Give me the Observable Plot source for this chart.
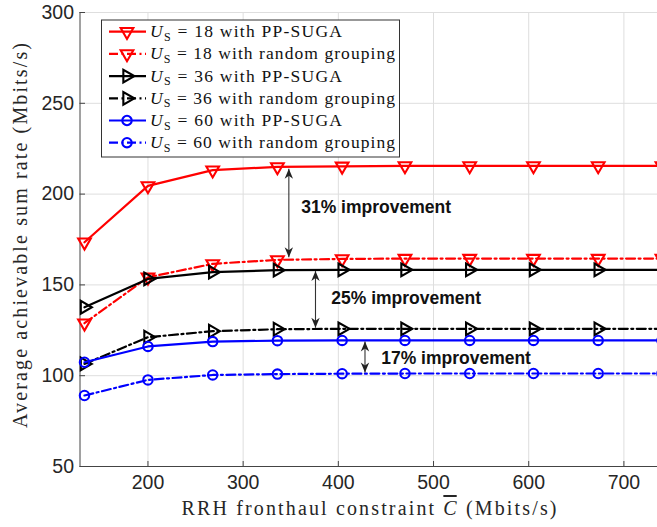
<!DOCTYPE html>
<html><head><meta charset="utf-8">
<script src="https://cdn.jsdelivr.net/npm/d3@7"></script>
<script src="https://cdn.jsdelivr.net/npm/@observablehq/plot@0.6"></script>
<style>
body{margin:0;background:#fff}
#chart{position:relative;width:657px;height:527px;overflow:hidden}
#chart svg{overflow:hidden}
</style>
</head><body><div id="chart"></div>
<script>
// ---- data ----
const xValues = [133.3, 200, 268, 336, 404, 470, 538, 605, 673, 740];
const us18Suga = [173.5, 204.5, 213.2, 215.0, 215.3, 215.5, 215.5, 215.5, 215.5, 215.5];
const us18Rand = [128.9, 154.2, 161.6, 163.8, 164.3, 164.5, 164.5, 164.5, 164.5, 164.5];
const us36Suga = [137.7, 153.3, 157.0, 158.1, 158.3, 158.3, 158.3, 158.3, 158.3, 158.3];
const us36Rand = [106.5, 121.2, 124.5, 125.6, 125.8, 125.8, 125.8, 125.8, 125.8, 125.8];
const us60Suga = [107.4, 116.1, 118.8, 119.3, 119.4, 119.4, 119.4, 119.4, 119.4, 119.4];
const us60Rand = [89.1, 97.7, 100.4, 100.9, 101.1, 101.2, 101.2, 101.2, 101.2, 101.2];
const xTicks = [200, 300, 400, 500, 600, 700];
const yTicks = [50, 100, 150, 200, 250, 300];
const xDomain = [128.6, 735.3];
const yDomain = [50, 300];
const legendUs = ["18", "18", "36", "36", "60", "60"];
const legendText = ["with PP-SUGA", "with random grouping", "with PP-SUGA", "with random grouping", "with PP-SUGA", "with random grouping"];
const arrowX = [348, 376, 428];
const arrowTop = [214, 157.6, 118.8];
const arrowBottom = [165.2, 126.4, 101.8];
const noteX = [361, 392.6, 445];
const noteY = [192.6, 142.5, 109.6];
const noteText = ["31% improvement", "25% improvement", "17% improvement"];

const dashDot = "9,3.5,2,3.5";
const series = [
  {values: us18Suga, color: "#ff0000", dash: null, symbol: "triangle", rotate: 180},
  {values: us18Rand, color: "#ff0000", dash: dashDot, symbol: "triangle", rotate: 180},
  {values: us36Suga, color: "#000000", dash: null, symbol: "triangle", rotate: 90},
  {values: us36Rand, color: "#000000", dash: dashDot, symbol: "triangle", rotate: 90},
  {values: us60Suga, color: "#0000ff", dash: null, symbol: "circle", rotate: 0},
  {values: us60Rand, color: "#0000ff", dash: dashDot, symbol: "circle", rotate: 0}
];

const arrows = arrowX.map((x, i) => ({x, y1: arrowTop[i], y2: arrowBottom[i]}));
const notes = noteX.map((x, i) => ({x, y: noteY[i], text: noteText[i]}));

const tickFont = "Liberation Sans, Arial, Helvetica, sans-serif";
const marks = [
  Plot.gridX(xTicks, {stroke: "#dedede", strokeOpacity: 1, strokeWidth: 1}),
  Plot.gridY(yTicks, {stroke: "#dedede", strokeOpacity: 1, strokeWidth: 1}),
  Plot.tickX(xTicks, {x: d => d, insetTop: 449, stroke: "#444", strokeWidth: 1}),
  Plot.tickY(yTicks, {y: d => d, insetRight: 572, stroke: "#444", strokeWidth: 1}),
  Plot.ruleY([yDomain[0]], {stroke: "#444", strokeWidth: 1}),
  Plot.ruleX([xDomain[0]], {stroke: "#444", strokeWidth: 1}),
  Plot.axisX(xTicks, {tickSize: 0, tickPadding: 9, fontSize: 19.5, fontFamily: tickFont, fill: "#262626", label: null}),
  Plot.axisY(yTicks, {tickSize: 0, tickPadding: 6, fontSize: 19.5, fontFamily: tickFont, fill: "#262626", label: null})
];
series.forEach(s => {
  const pts = s.values.map((v, j) => ({x: xValues[j], y: v}));
  marks.push(Plot.line(pts, {x: "x", y: "y", stroke: s.color, strokeWidth: 2.2, strokeDasharray: s.dash}));
  marks.push(Plot.dot(pts, {x: "x", y: "y", symbol: s.symbol, rotate: s.rotate, r: 4.7, stroke: s.color, strokeWidth: 2.1, fill: "none"}));
});
marks.push(Plot.link(arrows, {x1: "x", x2: "x", y1: "y1", y2: "y2", stroke: "#333", strokeWidth: 1.1}));
marks.push(Plot.text(notes, {x: "x", y: "y", text: "text", textAnchor: "start", fontWeight: "bold", fontSize: 17.5, fontFamily: tickFont, fill: "#111"}));

const plot = Plot.plot({
  width: 657, height: 527,
  marginLeft: 79.5, marginTop: 12, marginBottom: 61, marginRight: 0,
  x: {domain: xDomain},
  y: {domain: yDomain},
  style: {background: "#fff"},
  marks
});
document.getElementById("chart").appendChild(plot);

// ---- labels, arrowheads & legend ----
const svg = d3.select(plot);

// custom filled arrowheads for the double arrows
const defs = svg.append("defs");
defs.append("marker").attr("id", "ahead").attr("viewBox", "-11 -5 12 10")
  .attr("refX", 0).attr("refY", 0).attr("markerWidth", 12).attr("markerHeight", 10)
  .attr("markerUnits", "userSpaceOnUse").attr("orient", "auto-start-reverse")
  .append("path").attr("d", "M0,0 L-10,-4.2 L-7,0 L-10,4.2 Z").attr("fill", "#222");
svg.selectAll('g[aria-label="link"] path')
  .attr("marker-start", "url(#ahead)").attr("marker-end", "url(#ahead)");

const serif = "Liberation Serif, Times New Roman, serif";
const xl = svg.append("text").attr("x", 369).attr("y", 515).attr("text-anchor", "middle")
  .attr("font-family", serif).attr("font-size", 20).attr("fill", "#262626")
  .attr("textLength", 375).attr("lengthAdjust", "spacing");
xl.append("tspan").text("RRH fronthaul constraint ");
xl.append("tspan").attr("font-style", "italic").style("text-decoration", "overline").text("C");
xl.append("tspan").text(" (Mbits/s)");

svg.append("text").attr("transform", "translate(26.5,235.5) rotate(-90)").attr("text-anchor", "middle")
  .attr("font-family", serif).attr("font-size", 20).attr("fill", "#262626")
  .attr("textLength", 385).attr("lengthAdjust", "spacing")
  .text("Average achievable sum rate (Mbits/s)");

const lg = svg.append("g");
lg.append("rect").attr("x", 101.5).attr("y", 20).attr("width", 298).attr("height", 137)
  .attr("fill", "#ffffff").attr("stroke", "#333").attr("stroke-width", 1);
series.forEach((s, i) => {
  const cy = 31.7 + i * 22.2;
  lg.append("line").attr("x1", 109).attr("x2", 146).attr("y1", cy).attr("y2", cy)
    .attr("stroke", s.color).attr("stroke-width", 2.2).attr("stroke-dasharray", s.dash);
  const sym = d3.symbol(s.symbol === "circle" ? d3.symbolCircle : d3.symbolTriangle, Math.PI * 4.7 * 4.7)();
  lg.append("path").attr("d", sym).attr("transform", `translate(127,${cy}) rotate(${s.rotate})`)
    .attr("fill", "none").attr("stroke", s.color).attr("stroke-width", 2.1);
  const t = lg.append("text").attr("x", 150).attr("y", cy + 5.5).attr("text-anchor", "start")
    .attr("font-family", serif).attr("font-size", 17.5).attr("fill", "#111");
  t.append("tspan").attr("font-style", "italic").text("U");
  t.append("tspan").attr("font-size", 12).attr("dy", 3.5).text("S");
  t.append("tspan").attr("dy", -3.5).text(` = ${legendUs[i]} ${legendText[i]}`);
  const w = (i % 2 === 0) ? 192 : 245;
  t.attr("textLength", w).attr("lengthAdjust", "spacing");
});
</script>
</body></html>
